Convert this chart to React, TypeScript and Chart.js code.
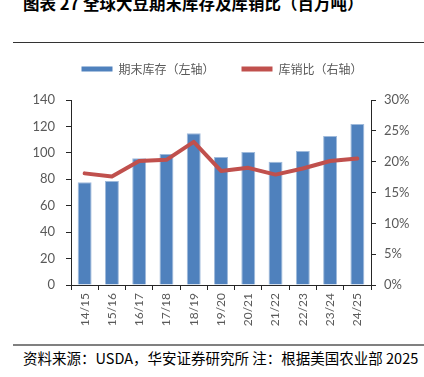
import React, { useEffect, useRef } from "react";
import { Chart, registerables } from "chart.js";

Chart.register(...registerables);

const categories = ["14/15", "15/16", "16/17", "17/18", "18/19", "19/20", "20/21", "21/22", "22/23", "23/24", "24/25"];
const endingStocks = [77.7, 78.7, 95.9, 99.1, 114.8, 96.9, 100.6, 93.3, 101.4, 112.8, 121.8];
const stockToUseRatio = [18.1, 17.6, 20.1, 20.3, 23.2, 18.5, 19.0, 17.9, 18.9, 20.1, 20.5];
const leftAxis = { min: 0, max: 140, step: 20 };
const rightAxis = { min: 0, max: 30, step: 5 };
const seriesNames = ["期末库存（左轴）", "库销比（右轴）"];
const titleText = "图表 27 全球大豆期末库存及库销比（百万吨）";
const sourceText = "资料来源：USDA，华安证券研究所 注：根据美国农业部 2025";

const BLUE = "#4F81BD";
const RED = "#C0504D";
const TICK = "#595959";
const AXIS = "#262626";

export default function App() {
  const ref = useRef<HTMLCanvasElement | null>(null);

  useEffect(() => {
    if (!ref.current) return;
    const legendHeight = {
      id: "legendHeight",
      beforeLayout(chart: any) {
        const lg = chart.legend;
        if (lg && !lg.__wrapped) {
          const orig = lg.fit;
          lg.fit = function () {
            orig.call(this);
            this.height = 64;
          };
          lg.__wrapped = true;
        }
      },
    };
    const chart = new Chart(ref.current, {
      type: "bar",
      data: {
        labels: categories,
        datasets: [
          {
            type: "line",
            label: seriesNames[1],
            data: stockToUseRatio,
            yAxisID: "y1",
            borderColor: RED,
            backgroundColor: RED,
            borderWidth: 4,
            pointRadius: 0,
            pointHoverRadius: 0,
            tension: 0,
            borderCapStyle: "round",
            borderJoinStyle: "round",
            order: 0,
          } as any,
          {
            type: "bar",
            label: seriesNames[0],
            data: endingStocks,
            yAxisID: "y",
            backgroundColor: BLUE,
            borderColor: "#9FBADB",
            borderWidth: 1,
            categoryPercentage: 0.55,
            barPercentage: 0.93,
            order: 1,
          } as any,
        ],
      },
      options: {
        responsive: false,
        animation: false,
        layout: { padding: { left: 20, right: 0, top: 0, bottom: 0 } },
        plugins: {
          tooltip: { enabled: false },
          legend: {
            display: true,
            position: "top",
            labels: {
              boxWidth: 31,
              boxHeight: 5,
              padding: 27,
              color: TICK,
              font: { size: 12, family: "'Noto Sans CJK SC', sans-serif" },
              sort: (a: any, b: any) => b.datasetIndex - a.datasetIndex,
              generateLabels: (chart: any) => {
                const base = (Chart.defaults.plugins.legend.labels as any).generateLabels(chart);
                return base.map((l: any) => ({
                  ...l,
                  lineWidth: 0,
                  fillStyle: l.datasetIndex === 0 ? RED : BLUE,
                  strokeStyle: l.datasetIndex === 0 ? RED : BLUE,
                }));
              },
            },
          },
        },
        scales: {
          x: {
            offset: true,
            grid: { display: true, drawOnChartArea: false, offset: true, tickLength: 5, color: AXIS },
            border: { display: true, color: AXIS, width: 1 },
            ticks: {
              color: TICK,
              font: { size: 12, family: "Lato, sans-serif" },
              minRotation: 90,
              maxRotation: 90,
              padding: 3,
              autoSkip: false,
            },
            afterFit: (s: any) => {
              s.height = 55;
            },
          },
          y: {
            position: "left",
            min: leftAxis.min,
            max: leftAxis.max,
            grid: { display: true, drawOnChartArea: false, tickLength: 5, color: AXIS },
            border: { display: true, color: AXIS, width: 1 },
            ticks: {
              stepSize: leftAxis.step,
              color: TICK,
              font: { size: 13, family: "Lato, sans-serif" },
              padding: 11,
            },
            afterFit: (s: any) => {
              s.width = 51;
            },
          },
          y1: {
            position: "right",
            min: rightAxis.min,
            max: rightAxis.max,
            grid: { display: true, drawOnChartArea: false, tickLength: 5, color: AXIS },
            border: { display: true, color: AXIS, width: 1 },
            ticks: {
              stepSize: rightAxis.step,
              color: TICK,
              font: { size: 13, family: "Lato, sans-serif" },
              padding: 8,
              callback: (v: any) => `${v}%`,
            },
            afterFit: (s: any) => {
              s.width = 53;
            },
          },
        },
      },
      plugins: [legendHeight],
    } as any);
    return () => chart.destroy();
  }, []);

  return (
    <div
      style={{
        position: "absolute",
        left: 0,
        top: 0,
        width: 424,
        height: 377,
        overflow: "hidden",
        background: "#fff",
      }}
    >
      <div
        style={{
          position: "absolute",
          left: 23,
          top: -6,
          fontSize: 16.5,
          lineHeight: "18px",
          fontWeight: "bold",
          fontFamily: "'Noto Sans CJK SC', sans-serif",
          color: "#000",
          whiteSpace: "nowrap",
        }}
      >
        {titleText}
      </div>
      <div style={{ position: "absolute", left: 13, top: 42, width: 411, height: 1, background: "#333" }} />
      <canvas
        ref={ref}
        width={424}
        height={304}
        style={{ position: "absolute", left: 0, top: 36, width: 424, height: 304 }}
      />
      <div style={{ position: "absolute", left: 13, top: 344, width: 411, height: 2, background: "#808080" }} />
      <div
        style={{
          position: "absolute",
          left: 23,
          top: 349,
          fontSize: 14.5,
          lineHeight: "18px",
          fontFamily: "'Noto Sans CJK SC', sans-serif",
          color: "#000",
          whiteSpace: "nowrap",
        }}
      >
        {sourceText}
      </div>
    </div>
  );
}
